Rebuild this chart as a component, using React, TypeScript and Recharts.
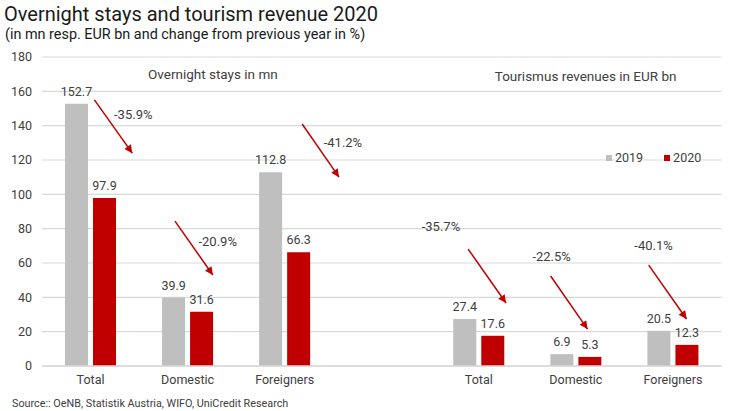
import React from 'react';
import { BarChart, Bar, XAxis, YAxis, CartesianGrid, LabelList, ReferenceLine, ReferenceDot } from 'recharts';

const categories = ['Total', 'Domestic', 'Foreigners', '', 'Total', 'Domestic', 'Foreigners'];
const values2019 = [152.7, 39.9, 112.8, null, 27.4, 6.9, 20.5];
const values2020 = [97.9, 31.6, 66.3, null, 17.6, 5.3, 12.3];
const yTicks = [0, 20, 40, 60, 80, 100, 120, 140, 160, 180];
const seriesNames = ['2019', '2020'];

// change annotations: arrow from (x1,y1) to (x2,y2); x in category-index units (category i centred at i), y in values
const changeLabels = ['-35.9%', '-20.9%', '-41.2%', '-35.7%', '-22.5%', '-40.1%'];
const arrowX1 = [0.04, 0.87, 2.18, 3.89, 4.74, 5.75];
const arrowY1 = [155, 84.4, 141, 68.1, 52.4, 58.8];
const arrowX2 = [0.43, 1.26, 2.56, 4.28, 5.12, 6.14];
const arrowY2 = [124, 53, 110, 36.7, 21.5, 27.4];
const labelX = [0.44, 1.31, 2.6, 3.61, 4.75, 5.8];
const labelY = [146.8, 72.8, 130.5, 81.5, 64.1, 70.5];

const sectionTitles = ['Overnight stays in mn', 'Tourismus revenues in EUR bn'];
const sectionX = [1.26, 5.1];
const sectionY = [170.1, 168.9];

const GRAY = '#BFBFBF';
const RED = '#C00000';
const TEXT = '#404040';
const FONT = 'Roboto, "Open Sans", sans-serif';

const data = categories.map((c, i) => ({ id: i, cat: c, y2019: values2019[i], y2020: values2020[i] }));

const ValueLabel = (props: any) => {
  const { x, y, width, value } = props;
  if (value === null || value === undefined) return null;
  return (
    <text x={x + width / 2} y={y - 8} textAnchor="middle" fill={TEXT} fontSize={12.5} fontFamily={FONT}>
      {Number(value).toFixed(1)}
    </text>
  );
};

const CenterText = (txt: string, size: number) => (props: any) => {
  const vb = props.viewBox || {};
  const cx = vb.x + (vb.width || 0) / 2;
  const cy = vb.y + (vb.height || 0) / 2;
  return (
    <text x={cx} y={cy} dy="0.35em" textAnchor="middle" fill={TEXT} fontSize={size} fontFamily={FONT}>
      {txt}
    </text>
  );
};

export default function App() {
  return (
    <div style={{ position: 'absolute', left: 0, top: 0, width: 734, height: 411, background: '#fff', fontFamily: FONT }}>
      <svg width={0} height={0} style={{ position: 'absolute' }}>
        <defs>
          <marker id="arrowHead" viewBox="0 0 10 10" refX={10} refY={5} markerWidth={9} markerHeight={8} markerUnits="userSpaceOnUse" orient="auto">
            <path d="M0,0 L10,5 L0,10 z" fill={RED} />
          </marker>
        </defs>
      </svg>
      <div style={{ position: 'absolute', left: 4, top: 3, fontSize: 20, color: '#1a1a1a', lineHeight: '22px', whiteSpace: 'nowrap' }}>
        Overnight stays and tourism revenue 2020
      </div>
      <div style={{ position: 'absolute', left: 5, top: 26, fontSize: 14.4, color: '#1a1a1a', lineHeight: '18px', whiteSpace: 'nowrap' }}>
        (in mn resp. EUR bn and change from previous year in %)
      </div>
      <BarChart
        width={734}
        height={411}
        data={data}
        margin={{ top: 57, right: 12.5, left: 0, bottom: 15 }}
        barSize={23}
        barGap={5}
      >
        <CartesianGrid vertical={false} stroke="#D9D9D9" strokeWidth={1.2} />
        <XAxis
          dataKey="id"
          tickFormatter={(v: any) => categories[v]}
          tickLine={false}
          axisLine={{ stroke: '#D9D9D9', strokeWidth: 1.5 }}
          tick={{ fill: TEXT, fontSize: 12.5, fontFamily: FONT }}
          tickMargin={3}
          interval={0}
        />
        <XAxis xAxisId="pos" dataKey="id" type="number" domain={[-0.5, 6.5]} hide allowDataOverflow />
        <YAxis
          domain={[0, 180]}
          ticks={yTicks}
          width={42}
          tickLine={false}
          axisLine={false}
          tickMargin={4}
          tick={{ fill: TEXT, fontSize: 12.5, fontFamily: FONT }}
          interval={0}
        />
        <Bar dataKey="y2019" name={seriesNames[0]} fill={GRAY} isAnimationActive={false}>
          <LabelList dataKey="y2019" content={ValueLabel} />
        </Bar>
        <Bar dataKey="y2020" name={seriesNames[1]} fill={RED} isAnimationActive={false}>
          <LabelList dataKey="y2020" content={ValueLabel} />
        </Bar>
        {changeLabels.map((t, i) => (
          <ReferenceLine
            key={'a' + i}
            xAxisId="pos"
            segment={[{ x: arrowX1[i], y: arrowY1[i] }, { x: arrowX2[i], y: arrowY2[i] }]}
            stroke={RED}
            strokeWidth={1.5}
            markerEnd="url(#arrowHead)"
            ifOverflow="visible"
          />
        ))}
        {changeLabels.map((t, i) => (
          <ReferenceDot
            key={'l' + i}
            xAxisId="pos"
            x={labelX[i]}
            y={labelY[i]}
            r={1}
            fill="none"
            stroke="none"
            ifOverflow="visible"
            label={CenterText(t, 13)}
          />
        ))}
        {sectionTitles.map((t, i) => (
          <ReferenceDot
            key={'s' + i}
            xAxisId="pos"
            x={sectionX[i]}
            y={sectionY[i]}
            r={1}
            fill="none"
            stroke="none"
            ifOverflow="visible"
            label={CenterText(t, 13.5)}
          />
        ))}
      </BarChart>
      <div style={{ position: 'absolute', left: 606, top: 150, display: 'flex', alignItems: 'center', fontSize: 12.5, color: TEXT, lineHeight: '16px' }}>
        <span style={{ width: 6, height: 6, background: GRAY, display: 'inline-block', marginRight: 3 }} />
        <span style={{ marginRight: 21, background: '#fff' }}>{seriesNames[0]}</span>
        <span style={{ width: 6, height: 6, background: RED, display: 'inline-block', marginRight: 3 }} />
        <span style={{ background: '#fff' }}>{seriesNames[1]}</span>
      </div>
      <div style={{ position: 'absolute', left: 12, top: 397, fontSize: 10.8, color: TEXT, whiteSpace: 'nowrap', lineHeight: '14px' }}>
        Source:: OeNB, Statistik Austria, WIFO, UniCredit Research
      </div>
    </div>
  );
}
